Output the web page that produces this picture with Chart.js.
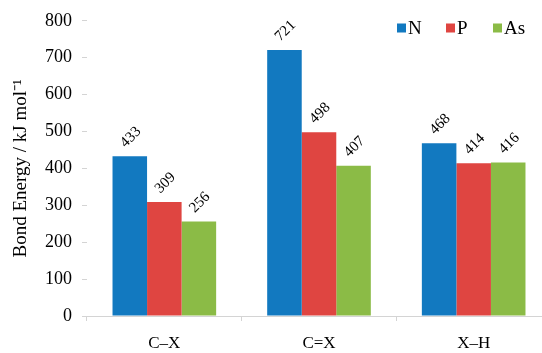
<!DOCTYPE html>
<html>
<head>
<meta charset="utf-8">
<script src="https://cdn.jsdelivr.net/npm/chart.js@4.4.0/dist/chart.umd.min.js"></script>
<style>
  html, body { margin: 0; padding: 0; background: #fff; overflow: hidden; }
  #wrap { width: 552px; height: 353px; position: relative; }
</style>
</head>
<body>
<div id="wrap"><canvas id="bondChart"></canvas></div>
<script>
const bonds = ["C\u2013X", "C=X", "X\u2013H"];
const nitrogen = [433, 721, 468];
const phosphorus = [309, 498, 414];
const arsenic = [256, 407, 416];
const yTicks = [0, 100, 200, 300, 400, 500, 600, 700, 800];

const serif = "'Liberation Serif', 'Times New Roman', serif";

// value above each bar, tilted
const barValues = {
  id: "barValues",
  afterDatasetsDraw(chart) {
    const ctx = chart.ctx;
    ctx.save();
    ctx.font = "15px " + serif;
    ctx.fillStyle = "#000";
    ctx.textAlign = "center";
    ctx.textBaseline = "middle";
    chart.data.datasets.forEach((ds, i) => {
      chart.getDatasetMeta(i).data.forEach((bar, j) => {
        ctx.save();
        ctx.translate(bar.x + 1, bar.y - 19);
        ctx.rotate(-45 * Math.PI / 180);
        ctx.fillText(String(ds.data[j]), 0, 0);
        ctx.restore();
      });
    });
    ctx.restore();
  }
};

// legend drawn inside the plot, upper right
const innerLegend = {
  id: "innerLegend",
  afterDraw(chart) {
    const ctx = chart.ctx;
    const xs = [397, 446, 493];
    const y = 28;
    ctx.save();
    ctx.font = "19px " + serif;
    ctx.textBaseline = "middle";
    ctx.textAlign = "left";
    chart.data.datasets.forEach((ds, i) => {
      ctx.fillStyle = ds.backgroundColor;
      ctx.fillRect(xs[i], y - 4.5, 9, 9);
      ctx.fillStyle = "#000";
      ctx.fillText(ds.label, xs[i] + 11, y + 1);
    });
    ctx.restore();
  }
};

const ctx = document.getElementById("bondChart").getContext("2d");
new Chart(ctx, {
  type: "bar",
  data: {
    labels: bonds,
    datasets: [
      { label: "N", data: nitrogen, backgroundColor: "#1279c0" },
      { label: "P", data: phosphorus, backgroundColor: "#df4541" },
      { label: "As", data: arsenic, backgroundColor: "#8bbb46" }
    ]
  },
  options: {
    responsive: true,
    maintainAspectRatio: false,
    animation: false,
    layout: { padding: { top: 6, right: 1, bottom: 0, left: 0 } },
    datasets: { bar: { categoryPercentage: 0.67, barPercentage: 1.0, borderWidth: 0 } },
    plugins: {
      legend: { display: false },
      tooltip: { enabled: false }
    },
    scales: {
      x: {
        afterFit(scale) { scale.height = 37; },
        grid: { display: true, offset: true, drawOnChartArea: false, tickLength: 5, color: "#d4d4d4" },
        border: { display: true, color: "#d4d4d4", width: 1 },
        ticks: { color: "#000", font: { family: serif, size: 17 }, padding: 12 }
      },
      y: {
        min: 0,
        max: 800,
        afterBuildTicks(scale) { scale.ticks = yTicks.map(v => ({ value: v })); },
        afterFit(scale) { scale.width = 87; },
        grid: { display: true, drawOnChartArea: false, tickLength: 5, color: "#d4d4d4" },
        border: { display: false },
        ticks: { color: "#000", font: { family: serif, size: 18 }, padding: 10 },
        title: {
          display: true,
          text: "Bond Energy / kJ mol\u207B\u00B9",
          color: "#000",
          font: { family: serif, size: 19 },
          padding: { top: 10, bottom: 0 }
        }
      }
    }
  },
  plugins: [barValues, innerLegend]
});
</script>
</body>
</html>
